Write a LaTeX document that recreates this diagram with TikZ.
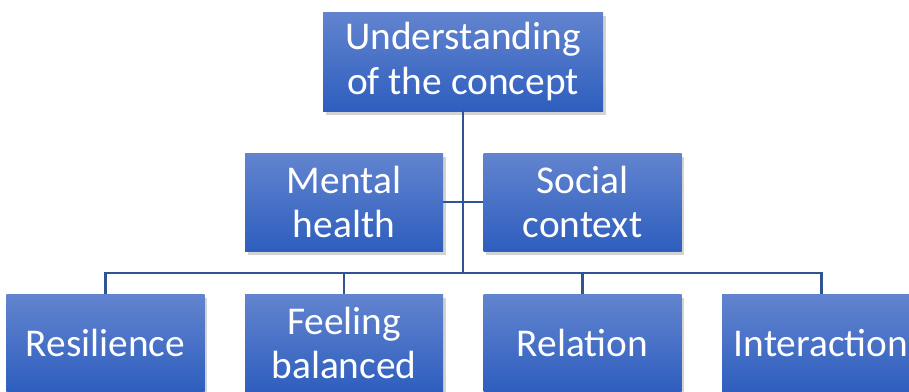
\documentclass[tikz,border=0pt]{standalone}
\usepackage{fontspec}
\setmainfont{Carlito}
\usepackage{tikz}
\usetikzlibrary{shadows}
\definecolor{boxtop}{RGB}{98,132,207}
\definecolor{boxbot}{RGB}{46,94,190}
\definecolor{linkblue}{RGB}{47,84,150}
\begin{document}
\begin{tikzpicture}[box/.style={rectangle,top color=boxtop,bottom color=boxbot,draw=none,
              text=white,align=center,inner sep=0pt,minimum width=3.96cm,minimum height=1.96cm,
              font=\fontsize{22.4}{25.5}\selectfont,
              drop shadow={shadow xshift=1.5pt,shadow yshift=-2pt,opacity=0.35}},
            link/.style={draw=linkblue,line width=1.7pt}]
          \useasboundingbox (0,0) rectangle (18.18,-7.82);
          \node[box,minimum width=5.6cm,minimum height=1.98cm] (top) at (9.26,-1.23) {Understanding\\of the concept};
          \node[box] (mental) at (6.88,-4.04) {Mental\\health};
          \node[box] (social) at (11.65,-4.04) {Social\\context};
          \node[box] (res) at (2.11,-6.86) {Resilience};
          \node[box] (feel) at (6.88,-6.86) {Feeling\\balanced};
          \node[box] (rel) at (11.65,-6.86) {Relation};
          \node[box] (inter) at (16.42,-6.86) {Interaction};
          \coordinate (bus) at (9.26,-5.46);
          \begin{scope}[on background layer/.try]
          \draw[link] (top.south) -- (bus);
          \draw[link] (mental.east) -- (social.west);
          \foreach \n in {res,feel,rel,inter}
            \draw[link] (bus) -| (\n.north);
          \end{scope}
        \end{tikzpicture}
\end{document}
